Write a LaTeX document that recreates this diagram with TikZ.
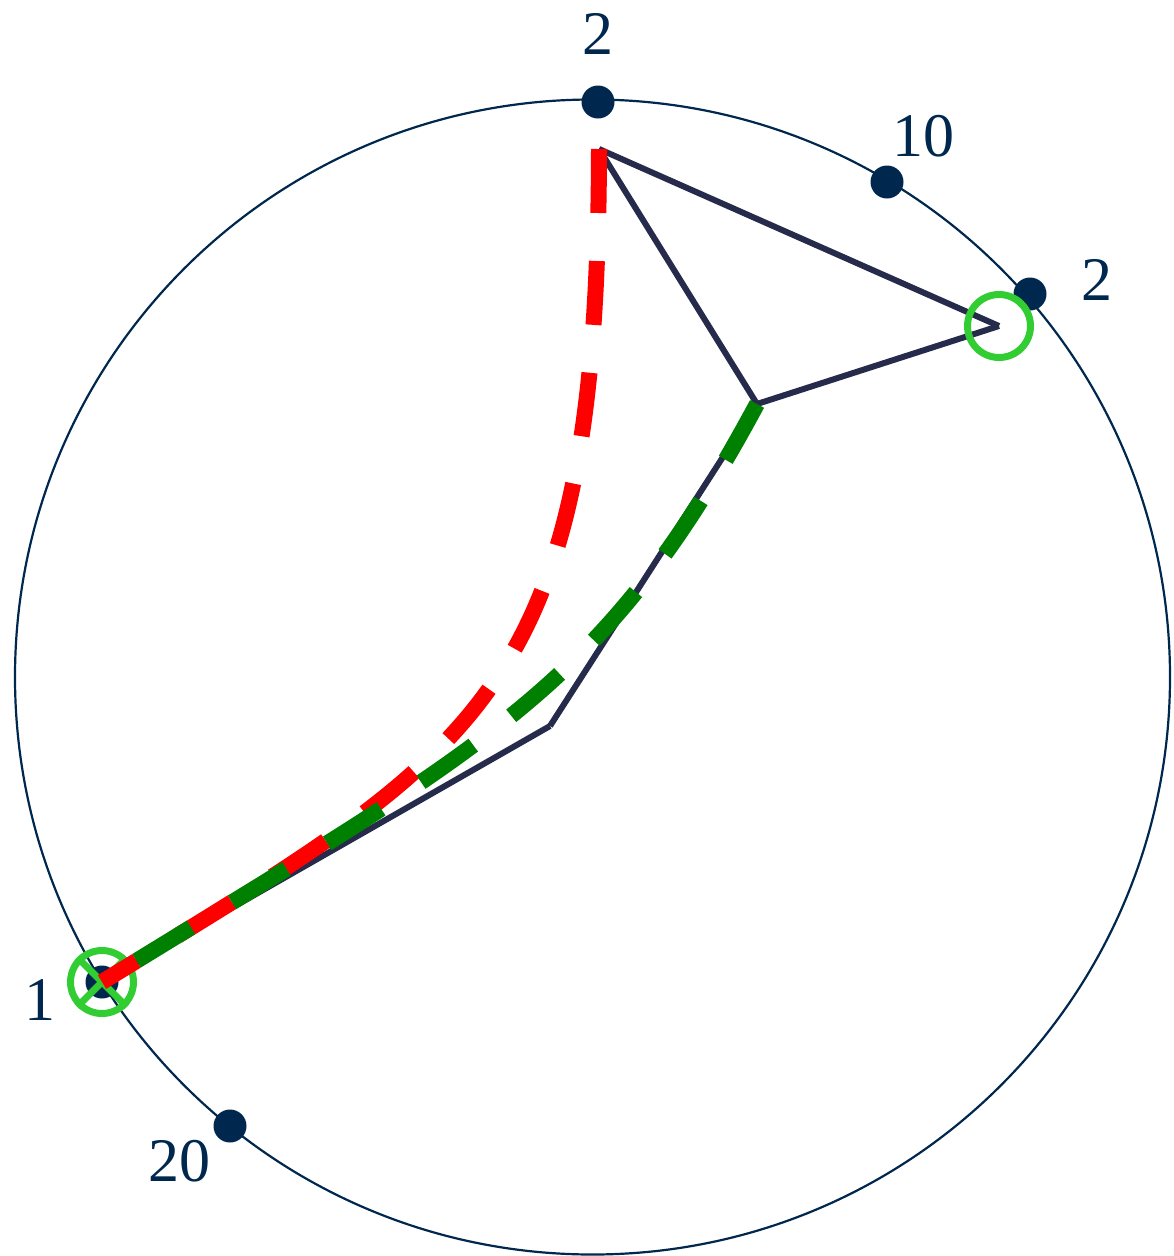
\documentclass[tikz,border=0pt]{standalone}
\usepackage{fontspec}
\setmainfont{Liberation Serif}
\begin{document}
\begin{tikzpicture}[x=1pt,y=-1pt,
  navytext/.style={text=navyc,inner sep=0pt,font=\fontsize{62}{62}\selectfont},
  pdot/.style={circle,fill=navyc,minimum size=33pt,inner sep=0pt},
  edge/.style={draw=slatec,line width=6pt,line join=miter},
  reddash/.style={draw=red,line width=16pt,dash pattern=on 64pt off 48pt},
  greendash/.style={draw=greenc,line width=16pt,dash pattern=on 64pt off 48pt},
  ring/.style={circle,draw=limec,line width=7pt,minimum size=63pt,inner sep=0pt}]
\definecolor{navyc}{RGB}{0,40,78}
\definecolor{slatec}{RGB}{38,43,75}
\definecolor{greenc}{RGB}{0,128,0}
\definecolor{limec}{RGB}{50,205,50}
\useasboundingbox (0,0) rectangle (1173,1256);
% main circle
\draw[navyc,line width=2.2pt] (592.5,677) circle (577.5);
% dots
\node[pdot] (d1) at (598,102) {};
\node[pdot] (d2) at (887,182) {};
\node[pdot] (d3) at (1030,294) {};
\node[pdot] (d4) at (102,982) {};
\node[pdot] (d5) at (230,1126) {};
% labels
\node[navytext] (l1) at (598,34) {2};
\node[navytext] (l2) at (923,136) {10};
\node[navytext] (l3) at (1097,280) {2};
\node[navytext] (l4) at (40,1000) {1};
\node[navytext] (l5) at (179,1161) {20};
% graph vertices
\coordinate (a) at (599,149);
\coordinate (b) at (999,326);
\coordinate (c) at (757,404);
\coordinate (e) at (550,726);
\coordinate (f) at (102,982);
\draw[edge] (a) -- (b);
\draw[edge] (a) -- (c);
\draw[edge] (b) -- (c);
\draw[edge] (c) -- (e);
\draw[edge] (e) -- (f);
% markers
\node[ring] (m1) at (b) {};
\node[ring] (m2) at (f) {};
\draw[limec,line width=7pt] (m2.north east) -- (m2.south west);
\draw[limec,line width=7pt] (m2.north west) -- (m2.south east);
% dashed paths
\draw[reddash] (a) .. controls (598,700) and (480,750) .. (f);
\draw[greendash] (c) .. controls (603,690) and (492,742) .. (f);
\end{tikzpicture}
\end{document}
